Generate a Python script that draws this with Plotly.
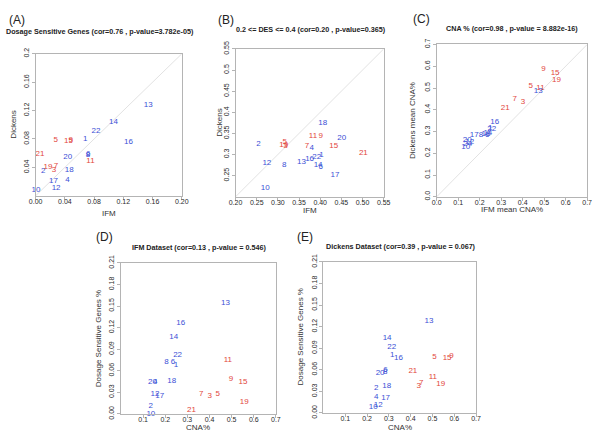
import plotly.graph_objects as go

W, H = 600, 438
FONT = "Liberation Sans, Arial, sans-serif"
BLUE = "#3b4fd6"
RED = "#e2463c"

# chromosome labels
chrom = [str(i) for i in range(1, 23)]
hyperdiploid = ["3", "5", "7", "9", "11", "15", "19", "21"]

# dosage sensitive genes (fraction) per chromosome
ifm_dsg = [0.068, 0.0105, 0.025, 0.0437, 0.0275, 0.072, 0.028, 0.0715, 0.048, 0.0005, 0.075,
           0.028, 0.154, 0.1065, 0.045, 0.127, 0.0245, 0.046, 0.017, 0.044, 0.006, 0.0825]
dick_dsg = [0.080, 0.0345, 0.037, 0.0224, 0.078, 0.059, 0.0414, 0.057, 0.079, 0.008, 0.0497,
            0.011, 0.128, 0.104, 0.077, 0.076, 0.0205, 0.037, 0.040, 0.0553, 0.0585, 0.091]
# mean CNA % per chromosome
ifm_cna = [0.249, 0.134, 0.401, 0.155, 0.437, 0.235, 0.363, 0.206, 0.497, 0.135, 0.483,
           0.154, 0.472, 0.238, 0.551, 0.270, 0.175, 0.229, 0.557, 0.142, 0.319, 0.256]
dick_cna = [0.316, 0.242, 0.437, 0.242, 0.509, 0.284, 0.448, 0.283, 0.587, 0.228, 0.502,
            0.251, 0.484, 0.292, 0.567, 0.344, 0.285, 0.290, 0.538, 0.260, 0.410, 0.313]
# 0.2 <= DES <= 0.4 fraction per chromosome
ifm_des = [0.403, 0.254, 0.318, 0.380, 0.316, 0.401, 0.369, 0.315, 0.401, 0.270, 0.383,
           0.274, 0.356, 0.395, 0.432, 0.375, 0.435, 0.406, 0.314, 0.451, 0.502, 0.392]
dick_des = [0.299, 0.325, 0.319, 0.316, 0.330, 0.270, 0.319, 0.276, 0.345, 0.221, 0.345,
            0.279, 0.283, 0.276, 0.320, 0.290, 0.251, 0.374, 0.323, 0.339, 0.304, 0.293]

colors = [RED if c in hyperdiploid else BLUE for c in chrom]

def px_x(p):
    return p / W

def px_y(p):
    return 1 - p / H

# box px = [left, right, top, bottom]
panels = [
    dict(tag="A", title="Dosage Sensitive Genes (cor=0.76 , p-value=3.782e-05)",
         x=ifm_dsg, y=dick_dsg, box=[29.3, 179, 47.3, 194], xr=[0, 0.2], yr=[0, 0.2],
         xt=[0, 0.04, 0.08, 0.12, 0.16, 0.2], xtt=["0.00", "0.04", "0.08", "0.12", "0.16", "0.20"],
         yt=[0.04, 0.08, 0.12, 0.16, 0.2], ytt=["0.04", "0.08", "0.12", "0.16", "0.2"],
         xlab="IFM", ylab="Dickens", diag=True,
         tagpos=(0, 12), tpos=(95.5, 24), xlpos=212, ylpos=7),
    dict(tag="B", title="0.2 <= DES <= 0.4 (cor=0.20 , p-value=0.365)",
         x=ifm_des, y=dick_des, box=[234, 385.7, 42.3, 195], xr=[0.2, 0.55], yr=[0.2, 0.55],
         xt=[0.2, 0.25, 0.3, 0.35, 0.4, 0.45, 0.5, 0.55],
         xtt=["0.20", "0.25", "0.30", "0.35", "0.40", "0.45", "0.50", "0.55"],
         yt=[0.25, 0.3, 0.35, 0.4, 0.45, 0.5, 0.55],
         ytt=["0.25", "0.3", "0.35", "0.4", "0.45", "0.5", "0.55"],
         xlab="IFM", ylab="Dickens", diag=True,
         tagpos=(214, 12), tpos=(311.5, 22.7), xlpos=209, ylpos=218),
    dict(tag="C", title="CNA % (cor=0.98 , p-value = 8.882e-16)",
         x=ifm_cna, y=dick_cna, box=[440, 594, 37.7, 195], xr=[0, 0.7], yr=[0, 0.7],
         xt=[0, 0.1, 0.2, 0.3, 0.4, 0.5, 0.6, 0.7],
         xtt=["0.0", "0.1", "0.2", "0.3", "0.4", "0.5", "0.6", "0.7"],
         yt=[0, 0.1, 0.2, 0.3, 0.4, 0.5, 0.6, 0.7],
         ytt=["0.0", "0.1", "0.2", "0.3", "0.4", "0.5", "0.6", "0.7"],
         xlab="IFM mean CNA%", ylab="Dickens mean CNA%", diag=True,
         tagpos=(414, 11), tpos=(517.5, 20.7), xlpos=208, ylpos=415),
    dict(tag="D", title="IFM Dataset (cor=0.13 , p-value = 0.546)",
         x=ifm_cna, y=ifm_dsg, box=[116.7, 275.3, 263.3, 419.3], xr=[0, 0.7], yr=[0, 0.21],
         xt=[0.1, 0.2, 0.3, 0.4, 0.5, 0.6, 0.7],
         xtt=["0.1", "0.2", "0.3", "0.4", "0.5", "0.6", "0.7"],
         yt=[0, 0.03, 0.06, 0.09, 0.12, 0.15, 0.18, 0.21],
         ytt=["0.00", "0.03", "0.06", "0.09", "0.12", "0.15", "0.18", "0.21"],
         xlab="CNA%", ylab="Dosage Sensitive Genes %", diag=False,
         tagpos=(89, 237), tpos=(196.5, 247), xlpos=433.5, ylpos=94),
    dict(tag="E", title="Dickens Dataset (cor=0.39 , p-value = 0.067)",
         x=dick_cna, y=dick_dsg, box=[324, 480.3, 262.3, 418.3], xr=[0, 0.7], yr=[0, 0.21],
         xt=[0.1, 0.2, 0.3, 0.4, 0.5, 0.6, 0.7],
         xtt=["0.1", "0.2", "0.3", "0.4", "0.5", "0.6", "0.7"],
         yt=[0, 0.03, 0.06, 0.09, 0.12, 0.15, 0.18, 0.21],
         ytt=["0.00", "0.03", "0.06", "0.09", "0.12", "0.15", "0.18", "0.21"],
         xlab="CNA%", ylab="Dosage Sensitive Genes %", diag=False,
         tagpos=(295, 237), tpos=(403, 246), xlpos=433.5, ylpos=300),
]

fig = go.Figure()
annotations = []
axis_style = dict(showgrid=False, zeroline=False, showline=True, mirror=True,
                  linecolor="#b4b4b4", linewidth=1, ticks="outside", ticklen=3,
                  tickcolor="#b4b4b4", tickfont=dict(family=FONT, size=7, color="#2a2a2a"),
                  fixedrange=True)

def note(text, x, y, size, anchor="center", angle=0, color="#333333"):
    return dict(text=text, x=px_x(x), y=px_y(y), xref="paper", yref="paper",
                xanchor=anchor, yanchor="middle", showarrow=False, textangle=angle,
                font=dict(family=FONT, size=size, color=color))

for i, p in enumerate(panels):
    n = "" if i == 0 else str(i + 1)
    xa, ya = "x" + n, "y" + n
    l, r, t, b = p["box"]
    if p["diag"]:
        fig.add_trace(go.Scatter(x=p["xr"], y=p["yr"], mode="lines", xaxis=xa, yaxis=ya,
                                 line=dict(color="#e2e2e2", width=1), hoverinfo="skip",
                                 showlegend=False))
    fig.add_trace(go.Scatter(x=p["x"], y=p["y"], mode="text", text=chrom, xaxis=xa, yaxis=ya,
                             textposition="middle center",
                             textfont=dict(family=FONT, size=8, color=colors),
                             hoverinfo="skip", showlegend=False, cliponaxis=False))
    fig.layout["xaxis" + n] = dict(axis_style, domain=[px_x(l), px_x(r)], range=p["xr"],
                                   anchor=ya, tickvals=p["xt"], ticktext=p["xtt"],
                                   ticklabelstandoff=-4)
    fig.layout["yaxis" + n] = dict(axis_style, domain=[px_y(b), px_y(t)], range=p["yr"],
                                   anchor=xa, tickvals=p["yt"], ticktext=p["ytt"], tickangle=-90)
    annotations.append(note("(" + p["tag"] + ")", p["tagpos"][0], p["tagpos"][1], 12,
                            anchor="left", color="#222222"))
    annotations.append(note("<b>" + p["title"] + "</b>", p["tpos"][0], p["tpos"][1], 7.2,
                            color="#222222"))
    annotations.append(note(p["xlab"], (l + r) / 2, p["xlpos"], 8))
    annotations.append(note(p["ylab"], p["ylpos"], (t + b) / 2, 8, angle=-90))

fig.update_layout(width=W, height=H, margin=dict(l=0, r=0, t=0, b=0),
                  paper_bgcolor="white", plot_bgcolor="white",
                  annotations=annotations, showlegend=False)

# page body has a default 8px margin; drop it so the figure sits at the window origin
fig.write_html("out.html", config=dict(displayModeBar=False),
               post_script="document.body.style.margin='0px';document.body.style.overflow='hidden';")
